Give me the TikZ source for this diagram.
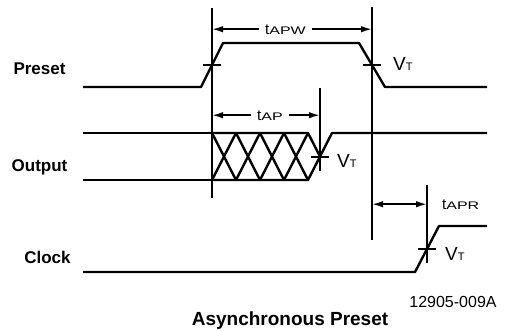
\documentclass[tikz,border=0pt]{standalone}
\usepackage{fontspec}
\usepackage{graphicx}
\setmainfont{Liberation Sans}
\usetikzlibrary{arrows.meta}
\newcommand{\tsub}[1]{t\scalebox{1.45}[1]{\fontsize{11}{11}\selectfont #1}}
\newcommand{\vth}{V{\fontsize{11}{11}\selectfont T}}

\begin{document}
\begin{tikzpicture}[x=1pt, y=-1pt,
  wave/.style={line width=2.4pt, line join=round},
  guide/.style={line width=2pt},
  vtick/.style={line width=2pt},
  dim/.style={-{Latex[length=11pt,width=6.5pt]}, line width=1.8pt},
  dimboth/.style={{Latex[length=11pt,width=6.5pt]}-{Latex[length=11pt,width=6.5pt]}, line width=1.8pt},
  signame/.style={font=\fontsize{17}{20}\selectfont\bfseries, anchor=base},
  lbl/.style={font=\fontsize{15}{17}\selectfont, anchor=base west, inner sep=0pt},
  vlbl/.style={font=\fontsize{19}{21}\selectfont, anchor=base west, inner sep=0pt},
]
  \useasboundingbox (0,0) rectangle (507,330);

  % signal names
  \node[signame] (preset) at (39.5,74) {Preset};
  \node[signame] (output) at (39.5,171) {Output};
  \node[signame] (clock) at (47.5,263) {Clock};

  % reference lines
  \coordinate (g1t) at (212,8);   \coordinate (g1b) at (212,198);
  \coordinate (g2t) at (372,7);   \coordinate (g2b) at (372,240);
  \coordinate (g3t) at (320,88);  \coordinate (g3b) at (320,171);
  \coordinate (g4t) at (427,185); \coordinate (g4b) at (427,263);
  \draw[guide] (g1t) -- (g1b);
  \draw[guide] (g2t) -- (g2b);
  \draw[guide] (g3t) -- (g3b);
  \draw[guide] (g4t) -- (g4b);

  % threshold crossings
  \coordinate (c1) at (212,65);
  \coordinate (c2) at (372,65);
  \coordinate (c3) at (320,156.5);
  \coordinate (c4) at (427,249);

  % Preset
  \draw[wave] (83,87) -- (201,87) -- (223,43) -- (359,43) -- (385,87) -- (487,87);

  % Output
  \draw[wave] (83,133) -- (212,133);
  \draw[wave] (83,180) -- (212,180);
  \draw[wave] (212,133) -- (308,133) -- (c3);
  \draw[wave] (212,180) -- (308,180) -- (c3) -- (332,133) -- (487,133);
  \foreach \i in {0,...,3} {
    \draw[wave] (212+24*\i,133) -- (236+24*\i,180);
    \draw[wave] (212+24*\i,180) -- (236+24*\i,133);
  }

  % Clock
  \draw[wave] (83,272) -- (415,272) -- (439,226) -- (487,226);

  \foreach \c in {c1,c2,c3,c4}
    \draw[vtick] ([xshift=-9pt]\c) -- ([xshift=9pt]\c);

  % timing labels
  \node[lbl] (tapw) at (265,34) {\tsub{APW}};
  \draw[dim] ([xshift=-6pt]tapw.west) -- (tapw.west -| g1t);
  \draw[dim] ([xshift=6pt]tapw.east) -- (tapw.east -| g2t);

  \node[lbl] (tap) at (257,120) {\tsub{AP}};
  \draw[dim] ([xshift=-6pt]tap.west) -- (tap.west -| g1t);
  \draw[dim] ([xshift=6pt]tap.east) -- (tap.east -| g3t);

  \node[lbl] (tapr) at (442,209) {\tsub{APR}};
  \draw[dimboth] (tapr.west -| g2t) -- (tapr.west -| g4t);

  \node[vlbl] (vt1) at (393,70) {\vth};
  \node[vlbl] (vt2) at (337,167) {\vth};
  \node[vlbl] (vt3) at (445,260) {\vth};

  \node[font=\fontsize{16}{18}\selectfont, anchor=base] (fig) at (453,307) {12905-009A};
  \node[font=\fontsize{19}{22}\selectfont\bfseries, anchor=base] (title) at (290,325) {Asynchronous Preset};
\end{tikzpicture}
\end{document}
